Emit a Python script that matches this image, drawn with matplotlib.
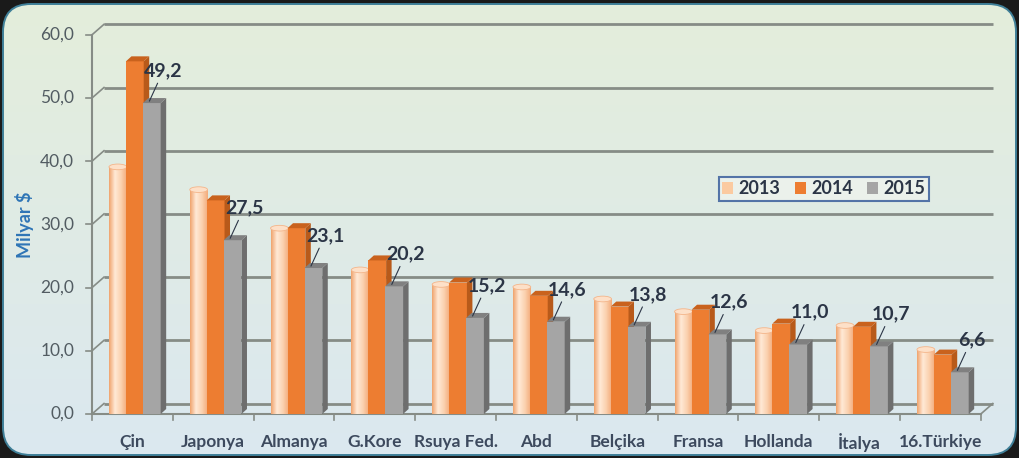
import numpy as np
import matplotlib
matplotlib.use("Agg")
import matplotlib.pyplot as plt
from matplotlib.patches import FancyBboxPatch, Polygon, Rectangle, Ellipse, Patch
from matplotlib.colors import LinearSegmentedColormap

plt.rcParams['font.family'] = ['Lato', 'DejaVu Sans']

categories = ['Çin', 'Japonya', 'Almanya', 'G.Kore', 'Rsuya Fed.', 'Abd',
              'Belçika', 'Fransa', 'Hollanda', 'İtalya', '16.Türkiye']
v2013 = [39.1, 35.5, 29.4, 22.8, 20.5, 20.1, 18.2, 16.2, 13.2, 14.0, 10.2]
v2014 = [55.8, 33.8, 29.4, 24.3, 20.8, 18.7, 17.0, 16.5, 14.3, 13.8, 9.4]
v2015 = [49.2, 27.5, 23.1, 20.2, 15.2, 14.6, 13.8, 12.6, 11.0, 10.7, 6.6]
series_names = ['2013', '2014', '2015']
yticks = [0, 10, 20, 30, 40, 50, 60]
ytick_labels = ['0,0', '10,0', '20,0', '30,0', '40,0', '50,0', '60,0']

W, H = 1020, 458
fig = plt.figure(figsize=(W / 100, H / 100), dpi=100, facecolor='#1a1a1a')

# background rounded panel with gradient
bg = fig.add_axes([0, 0, 1, 1])
bg.set_xlim(0, W)
bg.set_ylim(0, H)
bg.axis('off')
panel = FancyBboxPatch((3, 3), W - 7, H - 7, boxstyle="round,pad=0,rounding_size=28",
                       facecolor='none', edgecolor='#3f7f98', lw=1.4, zorder=3)
grad = np.linspace(0, 1, 256).reshape(-1, 1)
gcmap = LinearSegmentedColormap.from_list('bgg', ['#dbe8f0', '#e4eedb'])
im = bg.imshow(grad, cmap=gcmap, extent=(3, W - 4, 3, H - 4), origin='lower',
               aspect='auto', zorder=1)
clip = FancyBboxPatch((3, 3), W - 7, H - 7, boxstyle="round,pad=0,rounding_size=28",
                      facecolor='none', edgecolor='none', transform=bg.transData)
bg.add_patch(clip)
im.set_clip_path(clip)
bg.add_patch(panel)

# main axes: x=0..11 -> px 92..981 ; y=0..60 -> px 413..34 (from top)
pxx = 80.8
pxy = 6.32
xmin, xmax = -1.0, 11.3
ymin, ymax = -4.0, 63.0
left = (92 + xmin * pxx) / W
width = (xmax - xmin) * pxx / W
bottom = (H - 414 + ymin * pxy) / H
height = (ymax - ymin) * pxy / H
ax = fig.add_axes([left, bottom, width, height])
ax.set_xlim(xmin, xmax)
ax.set_ylim(ymin, ymax)
ax.axis('off')
ax.patch.set_alpha(0)

n = len(categories)
DX, DY = 12 / pxx, 10.5 / pxy
grid_c = '#868c86'

# back wall gridlines + left wall connectors
for t, lab in zip(yticks, ytick_labels):
    ax.plot([DX, n + DX], [t + DY, t + DY], color=grid_c, lw=2.0, zorder=1, solid_capstyle='butt')
    ax.plot([0, DX], [t, t + DY], color=grid_c, lw=1.2, zorder=1)
    ax.plot([-0.07, 0], [t, t], color=grid_c, lw=1.2, zorder=1)
    ax.text(-0.22, t, lab, ha='right', va='center', fontsize=12.5, color='#525c62')
# floor
ax.plot([0, n], [0, 0], color=grid_c, lw=1.5, zorder=1)
ax.plot([n, n + DX], [0, DY], color=grid_c, lw=1.2, zorder=1)
ax.plot([0, 0], [0, 60], color=grid_c, lw=1.5, zorder=1)
for i in range(n + 1):
    ax.plot([i, i], [0, -0.9], color=grid_c, lw=1.2, zorder=1)

# category labels
for i, c in enumerate(categories):
    ax.text(i + 0.5, -4.5, c, ha='center', va='center', fontsize=12.5,
            fontweight='bold', color='#3d4a5e')

ax.text(-0.84, 30, 'Milyar $', rotation=90, ha='center', va='center',
        fontsize=13, fontweight='bold', color='#2e75b6')

bw = 0.22
bd, bdy = 5.5 / pxx, 5 / pxy
pale_cmap = LinearSegmentedColormap.from_list('pale', ['#f0a46e', '#ffe9d6', '#fbd2b0', '#f3ab7a'])
styles = {
    '2014': ('#ed7d31', '#b85a1a', '#c9621d'),
    '2015': ('#a5a5a5', '#6e6e6e', '#808080'),
}
series = [v2013, v2014, v2015]
offsets = [0.21, 0.42, 0.63]
z = 5
for i in range(n):
    for s, (name, vals) in enumerate(zip(series_names, series)):
        x0 = i + offsets[s]
        x1 = x0 + bw
        h = vals[i]
        if name == '2013':
            hgrad = np.linspace(0, 1, 64).reshape(1, -1)
            bim = ax.imshow(hgrad, cmap=pale_cmap, extent=(x0, x1, 0, h), aspect='auto',
                            zorder=z, origin='lower')
            r = Rectangle((x0, 0), bw, h, transform=ax.transData, facecolor='none', edgecolor='none')
            ax.add_patch(r)
            bim.set_clip_path(r)
            ax.add_patch(Ellipse((x0 + bw / 2, h), bw, 0.9, facecolor='#fde0c8',
                                 edgecolor='#f4b58a', lw=0.6, zorder=z + 0.1))
            ax.bar(x0, h, width=bw, align='edge', color='none', zorder=z)
        else:
            front, side, top = styles[name]
            ax.bar(x0, h, width=bw, align='edge', color=front, zorder=z, linewidth=0)
            ax.add_patch(Polygon([(x1, 0), (x1 + bd, bdy), (x1 + bd, h + bdy), (x1, h)],
                                 closed=True, facecolor=side, edgecolor='none', zorder=z))
            ax.add_patch(Polygon([(x0, h), (x0 + bd, h + bdy), (x1 + bd, h + bdy), (x1, h)],
                                 closed=True, facecolor=top, edgecolor='none', zorder=z))
        z += 1
    # data label for 2015
    xc = i + offsets[2] + bw / 2
    ax.annotate(f"{v2015[i]:.1f}".replace('.', ','), xy=(xc - 0.03, v2015[i] + 0.3),
                xytext=(14, 22), textcoords='offset pixels', ha='center', va='bottom',
                fontsize=14, fontweight='bold', color='#2b3546', zorder=100,
                arrowprops=dict(arrowstyle='-', color='#2b3546', lw=0.8,
                                shrinkA=1, shrinkB=0))

# legend
handles = [Patch(facecolor='#fbcaa0', edgecolor='none'),
           Patch(facecolor='#ed7d31', edgecolor='none'),
           Patch(facecolor='#a5a5a5', edgecolor='none')]
leg = fig.legend(handles, series_names, loc='center', bbox_to_anchor=(824 / W, 1 - 189 / H),
                 ncol=3, frameon=True, fancybox=False, handlelength=0.6, handleheight=0.6,
                 handletextpad=0.3, columnspacing=0.8, borderpad=0.2,
                 prop={'weight': 'bold', 'size': 13})
leg.get_frame().set_edgecolor('#2f5597')
leg.get_frame().set_linewidth(1.5)
leg.get_frame().set_facecolor('#eef3ee')
for t in leg.get_texts():
    t.set_color('#2b3546')

fig.savefig('out.png', dpi=100, facecolor=fig.get_facecolor())
